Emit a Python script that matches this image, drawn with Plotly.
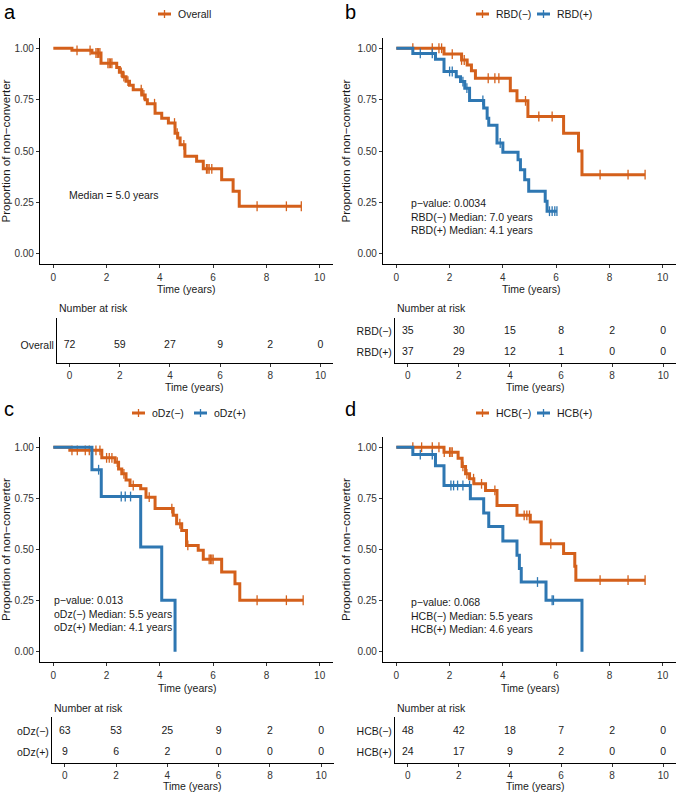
import plotly.graph_objects as go

W, H = 676, 792
ORANGE = "#D4601B"
BLUE = "#2E77B2"
FONT = "Liberation Sans, Arial, sans-serif"
TXT = "#1a1a1a"
FS = 10.5

# ---------------- data ----------------
a_times = [0.70, 1.45, 1.79, 2.38, 2.48, 2.61, 2.73, 2.86, 3.00, 3.32, 3.45, 3.53, 3.82, 4.07, 4.32, 4.57, 4.67, 4.76, 4.94, 5.38, 5.63, 6.32, 6.75, 6.98]
a_surv = [0.990, 0.977, 0.927, 0.906, 0.883, 0.862, 0.840, 0.820, 0.798, 0.773, 0.749, 0.730, 0.684, 0.660, 0.636, 0.587, 0.563, 0.530, 0.474, 0.450, 0.413, 0.360, 0.304, 0.231]
a_end = 9.31
a_cens = [0.89, 1.38, 1.60, 1.65, 1.70, 1.75, 2.05, 2.10, 2.15, 2.20, 2.55, 2.65, 2.80, 3.30, 3.40, 3.80, 4.55, 4.65, 4.90, 5.75, 5.80, 5.85, 5.95, 7.65, 8.75, 9.31]

b_neg_times = [1.79, 2.45, 2.66, 2.82, 2.97, 4.28, 4.53, 4.94, 6.28, 6.84, 6.97]
b_neg_surv = [0.972, 0.943, 0.919, 0.890, 0.854, 0.793, 0.744, 0.668, 0.587, 0.500, 0.385]
b_neg_end = 9.34
b_neg_cens = [0.62, 1.35, 1.60, 1.70, 2.10, 2.45, 2.55, 3.45, 3.70, 3.85, 4.85, 5.35, 5.85, 7.65, 8.70, 9.34]

b_pos_times = [0.62, 1.47, 1.79, 2.25, 2.41, 2.57, 2.75, 3.28, 3.41, 3.47, 3.78, 4.00, 4.57, 4.66, 4.82, 4.97, 5.59, 5.66]
b_pos_surv = [0.975, 0.947, 0.887, 0.862, 0.838, 0.806, 0.746, 0.709, 0.660, 0.625, 0.539, 0.494, 0.458, 0.409, 0.360, 0.304, 0.256, 0.207]
b_pos_end = 6.03
b_pos_cens = [0.90, 1.35, 2.00, 2.10, 2.50, 2.65, 3.25, 3.90, 5.75, 5.85, 5.95, 6.03]

c_neg_times = [0.62, 1.82, 2.32, 2.45, 2.57, 2.73, 2.88, 3.28, 3.48, 3.82, 4.50, 4.63, 4.82, 5.00, 5.44, 5.63, 6.32, 6.82, 7.00]
c_neg_surv = [0.985, 0.948, 0.927, 0.894, 0.870, 0.840, 0.813, 0.797, 0.756, 0.700, 0.667, 0.626, 0.593, 0.520, 0.496, 0.452, 0.390, 0.333, 0.252]
c_neg_end = 9.38
c_neg_cens = [0.70, 0.90, 1.20, 1.35, 1.60, 1.75, 2.00, 2.10, 2.20, 2.40, 2.65, 3.00, 3.60, 4.45, 4.75, 5.05, 5.85, 5.90, 5.95, 6.00, 7.65, 8.75, 9.38]

c_pos_times = [1.45, 1.80, 3.28, 4.07, 4.57]
c_pos_surv = [0.890, 0.759, 0.512, 0.252, 0.000]
c_pos_end = 4.57
c_pos_cens = [1.70, 2.55, 2.70, 2.90]

d_neg_times = [1.79, 2.32, 2.47, 2.60, 2.75, 2.91, 3.35, 3.78, 4.53, 5.03, 5.44, 6.28, 6.70, 6.74]
d_neg_surv = [0.976, 0.946, 0.906, 0.870, 0.846, 0.821, 0.789, 0.715, 0.667, 0.634, 0.528, 0.480, 0.418, 0.350]
d_neg_end = 9.34
d_neg_cens = [0.62, 0.95, 1.35, 1.60, 1.80, 2.00, 2.05, 2.10, 2.50, 2.65, 2.90, 3.20, 3.70, 4.80, 4.90, 5.00, 5.80, 7.65, 8.70, 9.34]

d_pos_times = [0.62, 1.47, 1.79, 2.78, 3.28, 3.47, 4.00, 4.53, 4.62, 4.69, 5.62, 6.97]
d_pos_surv = [0.964, 0.910, 0.813, 0.748, 0.678, 0.613, 0.541, 0.472, 0.407, 0.341, 0.252, 0.000]
d_pos_end = 6.97
d_pos_cens = [0.90, 1.35, 2.05, 2.15, 2.30, 2.50, 2.75, 5.30, 5.85, 5.90]

risk_times = [0, 2, 4, 6, 8, 10]
risk_a = {"Overall": [72, 59, 27, 9, 2, 0]}
risk_b = {"RBD(−)": [35, 30, 15, 8, 2, 0], "RBD(+)": [37, 29, 12, 1, 0, 0]}
risk_c = {"oDz(−)": [63, 53, 25, 9, 2, 0], "oDz(+)": [9, 6, 2, 0, 0, 0]}
risk_d = {"HCB(−)": [48, 42, 18, 7, 2, 0], "HCB(+)": [24, 17, 9, 2, 0, 0]}

texts_a = ["Median = 5.0 years"]
texts_b = ["p−value: 0.0034", "RBD(−) Median: 7.0 years", "RBD(+) Median: 4.1 years"]
texts_c = ["p−value: 0.013", "oDz(−) Median: 5.5 years", "oDz(+) Median: 4.1 years"]
texts_d = ["p−value: 0.068", "HCB(−) Median: 5.5 years", "HCB(+) Median: 4.6 years"]

# ---------------- helpers ----------------
def step_val(times, surv, t):
    v = 1.0
    for ti, si in zip(times, surv):
        if ti <= t:
            v = si
    return v

def xd(a, b):
    return [a / W, min(b / W, 1.0)]

def yd(top, bottom):
    return [1 - bottom / H, 1 - top / H]

def px(x):
    return x / W

def py(y):
    return 1 - y / H

panels = [
    dict(letter="a", main_x=(40, 333), main_y=(38, 264), tab_x=(57, 333), tab_y=(318, 363),
         series=[("Overall", ORANGE, a_times, a_surv, a_end, a_cens)],
         risk=risk_a, texts=texts_a, text_pos=(0.52, 0.286), leg_icons=[158], leg_y=14,
         nar_y=308, letter_pos=(2, 12), main_title=(186, 289), tab_title=(195, 387)),
    dict(letter="b", main_x=(383, 676), main_y=(38, 264), tab_x=(395, 676), tab_y=(318, 363),
         series=[("RBD(−)", ORANGE, b_neg_times, b_neg_surv, b_neg_end, b_neg_cens),
                 ("RBD(+)", BLUE, b_pos_times, b_pos_surv, b_pos_end, b_pos_cens)],
         risk=risk_b, texts=texts_b, text_pos=(0.49, 0.182), leg_icons=[476, 537], leg_y=14,
         nar_y=308, letter_pos=(343, 12), main_title=(531, 289), tab_title=(535, 387)),
    dict(letter="c", main_x=(40, 333), main_y=(437, 662), tab_x=(52, 334), tab_y=(717, 763),
         series=[("oDz(−)", ORANGE, c_neg_times, c_neg_surv, c_neg_end, c_neg_cens),
                 ("oDz(+)", BLUE, c_pos_times, c_pos_surv, c_pos_end, c_pos_cens)],
         risk=risk_c, texts=texts_c, text_pos=(-0.04, 0.185), leg_icons=[132, 194], leg_y=413,
         nar_y=708, letter_pos=(2, 409), main_title=(187, 688), tab_title=(192, 786)),
    dict(letter="d", main_x=(383, 676), main_y=(437, 662), tab_x=(395, 676), tab_y=(717, 763),
         series=[("HCB(−)", ORANGE, d_neg_times, d_neg_surv, d_neg_end, d_neg_cens),
                 ("HCB(+)", BLUE, d_pos_times, d_pos_surv, d_pos_end, d_pos_cens)],
         risk=risk_d, texts=texts_d, text_pos=(0.49, 0.176), leg_icons=[476, 537], leg_y=413,
         nar_y=708, letter_pos=(343, 409), main_title=(530, 688), tab_title=(535, 786)),
]

fig = go.Figure()
layout = dict(width=W, height=H, margin=dict(l=0, r=0, t=0, b=0),
              paper_bgcolor="white", plot_bgcolor="white",
              font=dict(family=FONT, size=FS, color=TXT), showlegend=False)
annotations = []
shapes = []

axis_common = dict(showline=True, linecolor="black", linewidth=1.1, mirror=False,
                   ticks="outside", ticklen=3, tickcolor="#333333", tickwidth=1,
                   showgrid=False, zeroline=False, automargin=False,
                   tickfont=dict(family=FONT, size=10, color="#333333"))

for i, p in enumerate(panels):
    m = i + 1
    t = i + 5
    mx = f"x{m}" if m > 1 else "x"
    my = f"y{m}" if m > 1 else "y"
    tx, ty = f"x{t}", f"y{t}"

    layout[f"xaxis{m if m > 1 else ''}"] = dict(
        axis_common, domain=xd(*p["main_x"]), anchor=my, range=[-0.5, 10.5],
        tickvals=[0, 2, 4, 6, 8, 10], ticklabelstandoff=1)
    layout[f"yaxis{m if m > 1 else ''}"] = dict(
        axis_common, domain=yd(*p["main_y"]), anchor=mx, range=[-0.05, 1.05],
        tickvals=[0, 0.25, 0.5, 0.75, 1.0],
        ticktext=["0.00", "0.25", "0.50", "0.75", "1.00"],
        title=dict(text="Proportion of non−converter", font=dict(size=11.5, color=TXT), standoff=4))

    labels = list(p["risk"].keys())
    n = len(labels)
    layout[f"xaxis{t}"] = dict(
        axis_common, domain=xd(*p["tab_x"]), anchor=ty, range=[-0.5, 10.5],
        tickvals=risk_times)
    layout[f"yaxis{t}"] = dict(
        axis_common, domain=yd(*p["tab_y"]), anchor=tx, range=[0.5, n + 0.65 if n > 1 else 1.75],
        tickvals=[n - k for k in range(n)], ticktext=labels, ticks="", ticklen=0,
        tickfont=dict(family=FONT, size=FS, color=TXT))

    for (name, col, times, surv, end, cens), ix in zip(p["series"], p["leg_icons"]):
        xs = [0] + list(times) + [end]
        ys = [1.0] + list(surv) + [surv[-1]]
        fig.add_trace(go.Scatter(x=xs, y=ys, mode="lines", line=dict(color=col, width=3, shape="hv"),
                                 xaxis=mx, yaxis=my, hoverinfo="skip"))
        cy = [step_val(times, surv, c) for c in cens]
        fig.add_trace(go.Scatter(x=cens, y=cy, mode="markers",
                                 marker=dict(symbol="line-ns", size=7, color=col,
                                             line=dict(color=col, width=1.3)),
                                 xaxis=mx, yaxis=my, hoverinfo="skip"))
        # legend key (drawn manually, ggplot-style short key)
        ly = p["leg_y"]
        shapes.append(dict(type="line", xref="paper", yref="paper", x0=px(ix), x1=px(ix + 13),
                           y0=py(ly), y1=py(ly), line=dict(color=col, width=3)))
        shapes.append(dict(type="line", xref="paper", yref="paper", x0=px(ix + 6.5), x1=px(ix + 6.5),
                           y0=py(ly - 4), y1=py(ly + 4), line=dict(color=col, width=1.3)))
        annotations.append(dict(text=name, x=px(ix + 18), y=py(ly), xref="paper", yref="paper",
                                xanchor="left", yanchor="middle", showarrow=False,
                                font=dict(size=FS, color=TXT)))

    for k, lab in enumerate(labels):
        fig.add_trace(go.Scatter(x=risk_times, y=[n - k] * len(risk_times), mode="text",
                                 text=[str(v) for v in p["risk"][lab]],
                                 textfont=dict(family=FONT, size=FS, color=TXT),
                                 xaxis=tx, yaxis=ty, hoverinfo="skip"))

    tx0, ty0 = p["text_pos"]
    annotations.append(dict(text="<br>".join(p["texts"]), x=tx0, y=ty0, xref=mx, yref=my,
                            xanchor="left", yanchor="middle", align="left", showarrow=False,
                            font=dict(size=FS, color=TXT)))
    annotations.append(dict(text="Number at risk", x=px(p["tab_x"][0]), y=py(p["nar_y"]),
                            xref="paper", yref="paper", xanchor="left", yanchor="middle",
                            showarrow=False, font=dict(size=FS, color=TXT)))
    for (ttx, tty) in (p["main_title"], p["tab_title"]):
        annotations.append(dict(text="Time (years)", x=px(ttx), y=py(tty), xref="paper", yref="paper",
                                xanchor="center", yanchor="middle", showarrow=False,
                                font=dict(size=FS, color=TXT)))
    lx, ly = p["letter_pos"]
    annotations.append(dict(text=p["letter"], x=px(lx), y=py(ly), xref="paper", yref="paper",
                            xanchor="left", yanchor="middle", showarrow=False,
                            font=dict(size=20, color="black")))

layout["annotations"] = annotations
layout["shapes"] = shapes
fig.update_layout(**layout)
fig.write_html("out.html")
